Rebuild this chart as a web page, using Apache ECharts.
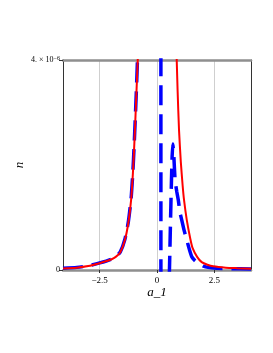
<!DOCTYPE html>
<html><head><meta charset="utf-8">
<script src="https://cdn.jsdelivr.net/npm/echarts@6/dist/echarts.min.js"></script>
<style>html,body{margin:0;padding:0;background:#fff}#c{width:273px;height:353px}</style>
</head><body><div id="c"></div>
<script>
// values of n are in units of 1e-6
const SCALE = 1e-6;
const redA = [-4.1,-3.5,-3.0,-2.5,-2.2,-2.0,-1.8,-1.6,-1.4,-1.25,-1.13,-1.05,-1.0,-0.95,-0.9,-0.84,-0.8,-0.7,-0.5,0,0.5,0.7,0.8,0.86,0.9,0.96,1.04,1.12,1.18,1.3,1.45,1.55,1.75,1.95,2.2,2.45,3.0,3.5,4.1];
const redN = [0.03,0.045,0.075,0.13,0.17,0.2,0.25,0.34,0.57,0.9,1.33,1.85,2.29,2.8,3.35,4.0,4.6,7,20,40,20,7,4.8,4.0,3.4,2.67,2.05,1.6,1.33,0.95,0.6,0.42,0.25,0.15,0.1,0.07,0.045,0.035,0.025];
const blueA = [-4.1,-3.5,-3.0,-2.5,-2.0,-1.8,-1.6,-1.4,-1.25,-1.13,-1.05,-1.0,-0.95,-0.9,-0.85,-0.8,-0.6,-0.2,0.17,0.17,0.35,0.5,0.54,0.61,0.655,0.69,0.73,0.79,0.86,0.93,1.0,1.08,1.18,1.3,1.42,1.52,1.65,1.79,2.0,2.23,2.6,3.2,4.1];
const blueN = [0.035,0.05,0.08,0.135,0.205,0.255,0.345,0.585,0.92,1.36,1.89,2.34,2.86,3.41,4.03,4.8,10,20,40,-40,-10,-0.8,-0.06,1.33,2.1,2.4,2.2,1.71,1.5,1.33,1.1,0.95,0.76,0.57,0.38,0.25,0.18,0.13,0.08,0.05,0.035,0.025,0.02];
const xTicks = [-2.5, 0, 2.5];
const xTickLabels = ['\u22122.5', '0', '2.5'];
const yTicks = [0, 4e-6];

const chart = echarts.init(document.getElementById('c'), null, {renderer:'canvas'});
const serif = 'Liberation Serif';
chart.setOption({
  animation: false,
  grid: {left: 63, right: 22, top: 60, bottom: 83, show: false},
  xAxis: [{
    type: 'value', min: -4.1, max: 4.1,
    name: 'a_1', nameLocation: 'middle', nameGap: 16, nameMoveOverlap: false,
    nameTextStyle: {fontFamily: serif, fontStyle: 'italic', fontSize: 13, color: '#000'},
    axisLine: {show: true, onZero: false, lineStyle: {color: '#8f8f8f', width: 2.5}},
    axisTick: {show: true, customValues: xTicks, length: 3, lineStyle: {color: '#333'}},
    axisLabel: {customValues: xTicks, fontFamily: serif, fontSize: 9, color: '#000', margin: 6,
      formatter: v => xTickLabels[xTicks.indexOf(v)] ?? ''},
    splitLine: {show: true, lineStyle: {color: '#cfcfcf', width: 1}}
  }, {
    type: 'value', min: -4.1, max: 4.1, position: 'top',
    axisLine: {show: true, onZero: false, lineStyle: {color: '#8f8f8f', width: 2.5}},
    axisTick: {show: false}, axisLabel: {show: false}, splitLine: {show: false}
  }],
  yAxis: [{
    type: 'value', min: 0, max: 4e-6,
    name: 'n', nameLocation: 'middle', nameGap: 37, nameRotate: 90, nameMoveOverlap: false,
    nameTextStyle: {fontFamily: serif, fontStyle: 'italic', fontSize: 13, color: '#000'},
    axisLine: {show: true, onZero: false, lineStyle: {color: '#333', width: 1}},
    axisTick: {show: true, customValues: yTicks, length: 4, lineStyle: {color: '#333'}},
    axisLabel: {customValues: yTicks, fontFamily: serif, fontSize: 8, color: '#000', margin: 3,
      formatter: v => v === 0 ? '0' : '4. \u00d7 10{sup|\u22126}',
      rich: {sup: {fontFamily: serif, fontSize: 6, verticalAlign: 'top', padding: [0,0,4,0]}}},
    splitLine: {show: false}
  }, {
    type: 'value', min: 0, max: 4e-6, position: 'right',
    axisLine: {show: true, onZero: false, lineStyle: {color: '#333', width: 1}},
    axisTick: {show: false}, axisLabel: {show: false}, splitLine: {show: false}
  }],
  series: [
    {type: 'line', data: redA.map((a, i) => [a, redN[i] * SCALE]), showSymbol: false, clip: true,
      lineStyle: {color: '#ff0000', width: 2}, z: 3, smooth: 0.2},
    {type: 'line', data: blueA.map((a, i) => [a, blueN[i] * SCALE]), showSymbol: false, clip: true,
      lineStyle: {color: '#0000ff', width: 3.5, type: [20, 9]}, z: 2, smooth: 0.2}
  ]
});
</script></body></html>
